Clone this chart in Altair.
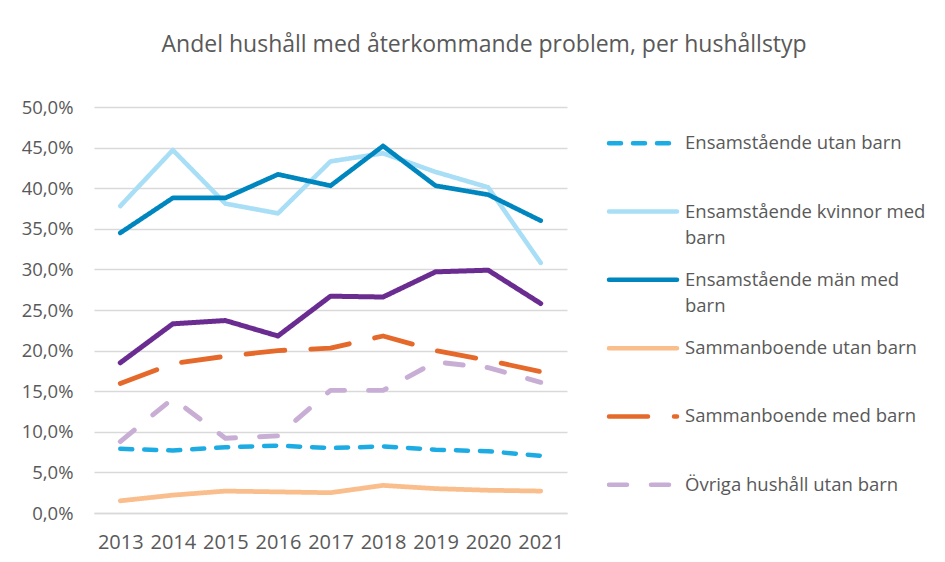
import altair as alt
import pandas as pd

years = ["2013", "2014", "2015", "2016", "2017", "2018", "2019", "2020", "2021"]

series_names = [
    "Ensamstående utan barn",
    "Ensamstående kvinnor med barn",
    "Ensamstående män med barn",
    "Sammanboende utan barn",
    "Sammanboende med barn",
    "Övriga hushåll utan barn",
    "Övriga hushåll med barn",
]

ens_utan_barn = [7.9, 7.7, 8.1, 8.3, 8.0, 8.2, 7.8, 7.6, 7.05]
ens_kvinnor_med_barn = [37.8, 44.7, 38.1, 36.9, 43.3, 44.3, 42.0, 40.1, 30.8]
ens_man_med_barn = [34.5, 38.8, 38.8, 41.7, 40.3, 45.2, 40.3, 39.2, 36.0]
samm_utan_barn = [1.5, 2.2, 2.7, 2.6, 2.5, 3.4, 3.0, 2.8, 2.7]
samm_med_barn = [15.95, 18.4, 19.3, 20.0, 20.3, 21.8, 20.0, 18.8, 17.4]
ovriga_utan_barn = [8.8, 14.1, 9.2, 9.5, 15.1, 15.1, 18.6, 17.9, 16.1]
ovriga_med_barn = [18.5, 23.3, 23.7, 21.8, 26.7, 26.6, 29.7, 29.9, 25.8]

series_values = [
    ens_utan_barn,
    ens_kvinnor_med_barn,
    ens_man_med_barn,
    samm_utan_barn,
    samm_med_barn,
    ovriga_utan_barn,
    ovriga_med_barn,
]

# legend shows only the first six series (as in the reference)
legend_names = series_names[:6]
legend_labels = [
    "Ensamstående utan barn",
    "Ensamstående kvinnor med\nbarn",
    "Ensamstående män med\nbarn",
    "Sammanboende utan barn",
    "Sammanboende med barn",
    "Övriga hushåll utan barn",
]

colors = ["#1CACE3", "#A8DEF6", "#0086BE", "#F9BE8C", "#E5692A", "#C8AED5", "#6A2C91"]
dashes = [[12, 12], [1, 0], [1, 0], [1, 0], [39, 26], [18, 24], [1, 0]]
widths = [4.5, 5, 4.5, 6, 4.5, 4.5, 4.5]

rows = []
for name, vals in zip(series_names, series_values):
    for yr, v in zip(years, vals):
        rows.append({"year": yr, "serie": name, "value": v / 100})
df = pd.DataFrame(rows)

leg_df = pd.DataFrame({"serie": legend_names, "label": legend_labels})

font = "Open Sans"
grey = "#595959"

color_scale = alt.Scale(domain=series_names, range=colors)
dash_scale = alt.Scale(domain=series_names, range=dashes)
width_scale = alt.Scale(domain=series_names, range=widths)

main = (
    alt.Chart(df)
    .mark_line(strokeCap="round", strokeJoin="round")
    .encode(
        x=alt.X(
            "year:O",
            sort=years,
            scale=alt.Scale(type="point", padding=0.5),
            axis=alt.Axis(
                title=None,
                labelAngle=0,
                labelFont=font,
                labelFontSize=20,
                labelColor=grey,
                labelPadding=19,
                ticks=False,
                domainColor="#D9D9D9",
                domainWidth=1.5,
                grid=False,
            ),
        ),
        y=alt.Y(
            "value:Q",
            scale=alt.Scale(domain=[0, 0.5], nice=False),
            axis=alt.Axis(
                title=None,
                values=[0, 0.05, 0.1, 0.15, 0.2, 0.25, 0.3, 0.35, 0.4, 0.45, 0.5],
                labelExpr="replace(format(datum.value, '.1%'), '.', ',')",
                labelFont=font,
                labelFontSize=18.5,
                labelColor=grey,
                labelPadding=21,
                ticks=False,
                domain=False,
                gridColor="#D9D9D9",
                gridWidth=1.5,
            ),
        ),
        color=alt.Color("serie:N", scale=color_scale, legend=None),
        strokeDash=alt.StrokeDash("serie:N", scale=dash_scale, legend=None),
        strokeWidth=alt.StrokeWidth("serie:N", scale=width_scale, legend=None),
    )
    .properties(width=473, height=406)
)

leg_y = alt.Y(
    "serie:N",
    sort=legend_names,
    scale=alt.Scale(type="point", padding=0.53),
    axis=None,
)

leg_lines = (
    alt.Chart(leg_df)
    .mark_rule(strokeCap="round", strokeWidth=4.5)
    .encode(
        x=alt.value(2),
        x2=alt.value(70),
        y=leg_y,
        color=alt.Color("serie:N", scale=color_scale, legend=None),
        strokeDash=alt.StrokeDash("serie:N", scale=dash_scale, legend=None),
    )
)

leg_text = (
    alt.Chart(leg_df)
    .transform_calculate(lines="split(datum.label, '\\n')")
    .mark_text(
        align="left",
        baseline="middle",
        font=font,
        fontSize=18.5,
        color=grey,
        lineHeight=26,
    )
    .encode(x=alt.value(78), y=leg_y, text="lines:N")
)

legend = (leg_lines + leg_text).properties(width=320, height=414)

chart = (
    alt.hconcat(main, legend, spacing=39)
    .properties(
        padding={"left": 13, "top": 26, "right": 5, "bottom": 5},
        title=alt.TitleParams(
            "Andel hushåll med återkommande problem, per hushållstyp",
            font=font,
            fontSize=23,
            fontWeight="normal",
            color=grey,
            anchor="middle",
            dx=10,
            offset=23,
            baseline="alphabetic",
        ),
    )
    .configure_view(stroke=None)
)

chart.save("out.html", embed_options={"renderer": "svg", "actions": False})
